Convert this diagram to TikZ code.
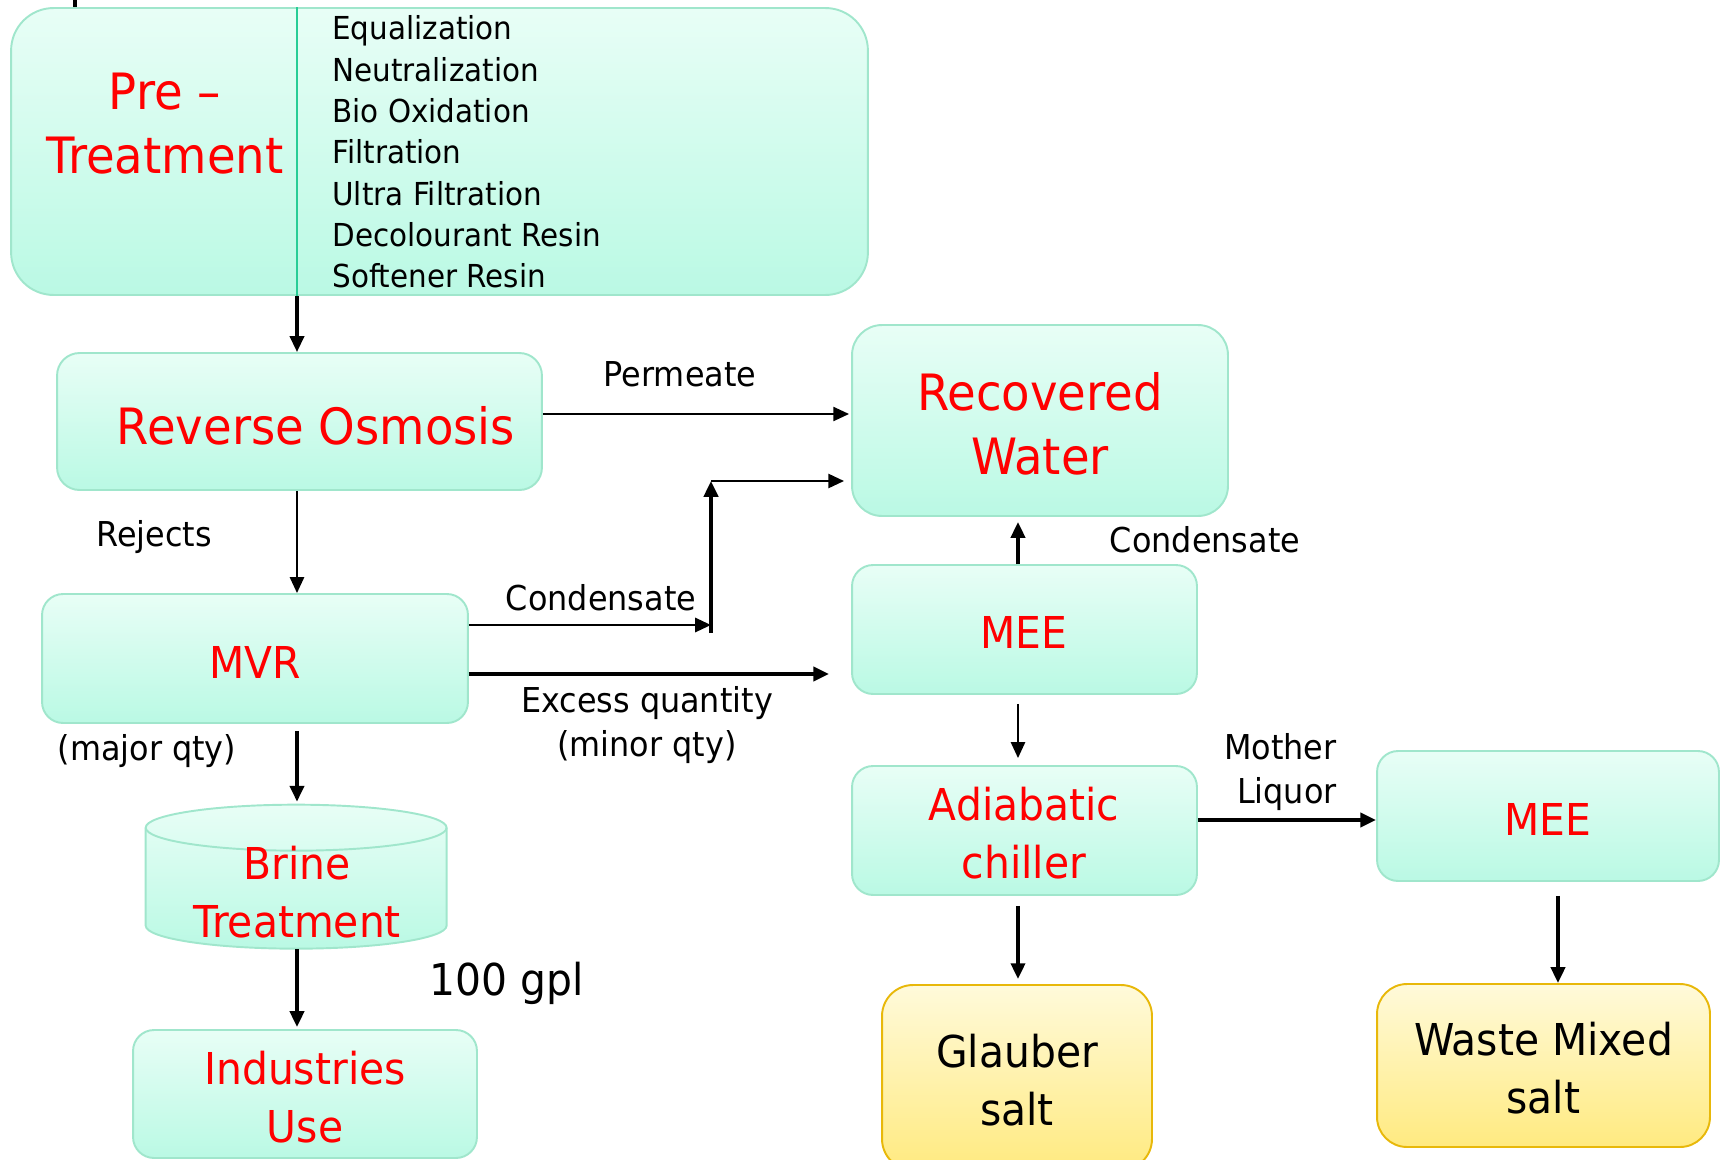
\documentclass[tikz,border=0pt]{standalone}
\usepackage{fontspec}
\setmainfont{DejaVu Sans}[FakeStretch=0.93]
\usetikzlibrary{arrows.meta,calc}
\definecolor{tealtop}{RGB}{232,254,246}
\definecolor{tealbot}{RGB}{186,249,228}
\definecolor{tealedge}{RGB}{160,230,204}
\definecolor{divgreen}{RGB}{40,205,150}
\definecolor{goldtop}{RGB}{255,250,218}
\definecolor{goldbot}{RGB}{255,234,128}
\definecolor{goldedge}{RGB}{232,184,10}
\definecolor{redtxt}{RGB}{255,0,0}
\tikzset{
  box/.style={draw=tealedge, line width=1.1pt, top color=tealtop, bottom color=tealbot, inner sep=0pt, align=center, text=redtxt},
  goldbox/.style={draw=goldedge, line width=1.1pt, top color=goldtop, bottom color=goldbot, inner sep=0pt, align=center, text=black},
  bigtxt/.style={font=\fontsize{28.5}{36.5}\selectfont},
  medtxt/.style={font=\fontsize{25}{33}\selectfont},
  lbl/.style={font=\fontsize{19.5}{25.5}\selectfont, align=center, inner sep=0pt},
  listtxt/.style={font=\fontsize{18}{23.5}\selectfont, align=left, inner sep=0pt},
  tip/.style={-{Triangle[length=9pt,width=8pt]}},
  arrthin/.style={tip, line width=1.2pt},
  arrmid/.style={tip, line width=2pt},
  arrbold/.style={tip, line width=2.5pt},
}
\begin{document}
\begin{tikzpicture}[x=0.02cm,y=-0.02cm]
\useasboundingbox (0,0) rectangle (1722,1160);
\clip (0,0) rectangle (1722,1160);

% stray stub at top left
\coordinate (stubA) at (75,-5);
\coordinate (stubB) at (75,8);
\draw[line width=2.2pt] (stubA) -- (stubB);

% boxes
\node[box, rounded corners=0.85cm, minimum width=17.14cm, minimum height=5.74cm] (pre) at (439.5,151.5) {};
\node[box, rounded corners=0.45cm, minimum width=9.7cm, minimum height=2.74cm] (ro) at (299.5,421.5) {};
\node[box, rounded corners=0.6cm, minimum width=7.52cm, minimum height=3.82cm] (rw) at (1040,420.5) {};
\node[box, rounded corners=0.42cm, minimum width=8.52cm, minimum height=2.58cm] (mvr) at (255,658.5) {};
\node[box, rounded corners=0.42cm, minimum width=6.9cm, minimum height=2.58cm] (mee1) at (1024.5,629.5) {};
\node[box, rounded corners=0.42cm, minimum width=6.9cm, minimum height=2.58cm] (adi) at (1024.5,830.5) {};
\node[box, rounded corners=0.42cm, minimum width=6.84cm, minimum height=2.6cm] (mee2) at (1548,816) {};
\node[box, rounded corners=0.42cm, minimum width=6.88cm, minimum height=2.56cm] (ind) at (305,1094) {};
\node[goldbox, rounded corners=0.62cm, minimum width=5.4cm, minimum height=3.7cm] (gla) at (1017,1077.5) {};
\node[goldbox, rounded corners=0.6cm, minimum width=6.66cm, minimum height=3.26cm] (waste) at (1543.5,1065.5) {};

% box texts
\node[bigtxt, text=redtxt, align=center] (rwtxt) at (1040,424) {Recovered\\Water};
\node[medtxt, text=redtxt] (mvrtxt) at (255,662) {MVR};
\node[medtxt, text=redtxt] (mee1txt) at (1024,632) {MEE};
\node[medtxt, text=redtxt, align=center] (aditxt) at (1024,833.5) {Adiabatic\\chiller};
\node[medtxt, text=redtxt] (mee2txt) at (1548,819) {MEE};
\node[medtxt, text=redtxt, align=center] (indtxt) at (305,1097) {Industries\\Use};
\node[medtxt, align=center] (glatxt) at (1017,1080) {Glauber\\salt};
\node[medtxt, align=center] (wastetxt) at (1543.5,1068.5) {Waste Mixed\\salt};

% brine treatment cylinder
\node[minimum width=6.02cm, minimum height=2.88cm, inner sep=0pt] (brine) at (296.5,877) {};
\path[top color=tealtop, bottom color=tealbot, draw=tealedge, line width=1.1pt]
  (brine.north west) ++(0,23) -- ++(0,98) arc (180:360:3.01cm and 0.46cm)
  -- ++(0,-98) arc (0:180:3.01cm and 0.46cm) -- cycle;
\draw[tealedge, line width=1.1pt] (brine.north west) ++(0,23) arc (180:360:3.01cm and 0.46cm);
\node[medtxt, text=redtxt, align=center] (brinetxt) at (297,892) {Brine\\Treatment};

% pre-treatment texts
\node[bigtxt, text=redtxt, align=center] (pretxt) at (165,124) {Pre –\\Treatment};
\node[listtxt, anchor=west] (list) at (332,152) {Equalization\\Neutralization\\Bio Oxidation\\Filtration\\Ultra Filtration\\Decolourant Resin\\Softener Resin};
\node[bigtxt, text=redtxt] (rotxt) at (316,426) {Reverse Osmosis};

% divider and vertical main line
\coordinate (div) at (297,7);
\draw[divgreen, line width=1.1pt] (div) -- (div |- pre.south);
\draw[arrmid, line width=1.8pt] (div |- pre.south) -- (div |- ro.north);
\draw[arrthin] (div |- ro.south) -- (div |- mvr.north);
\draw[arrmid, shorten <=0.14cm, shorten >=0.06cm] (div |- mvr.south) -- (div |- brine.north);
\draw[arrmid, shorten >=0.04cm] (div |- brine.south) -- (div |- ind.north);

% permeate
\coordinate (yperm) at (0,414);
\draw[arrthin, line width=1.3pt, shorten >=0.04cm] (ro.east |- yperm) -- (rw.west |- yperm);

% condensate from MVR
\coordinate (jlow) at (711,625);
\coordinate (jstart) at (711,633);
\coordinate (jtop) at (711,481);
\draw[tip, line width=1.5pt] (mvr.east |- jlow) -- (jlow);
\draw[tip, line width=2.2pt] (jstart) -- (jtop);
\draw[tip, line width=1.5pt, shorten >=0.14cm] (jtop) -- (rw.west |- jtop);

% excess quantity
\coordinate (yex) at (0,674);
\draw[arrbold, shorten >=0.44cm] (mvr.east |- yex) -- (mee1.west |- yex);

% MEE column
\coordinate (xm) at (1018,0);
\draw[arrmid, shorten >=0.1cm] (xm |- mee1.north) -- (xm |- rw.south);
\draw[arrthin, shorten <=0.18cm, shorten >=0.14cm] (xm |- mee1.south) -- (xm |- adi.north);
\draw[arrmid, shorten <=0.2cm, shorten >=0.1cm] (xm |- adi.south) -- (xm |- gla.north);

% mother liquor
\coordinate (yml) at (0,820);
\draw[arrbold] (adi.east |- yml) -- (mee2.west |- yml);

% MEE2 to waste
\coordinate (xw) at (1558,0);
\draw[arrmid, shorten <=0.28cm] (xw |- mee2.south) -- (xw |- waste.north);

% labels
\node[lbl] (lrej) at (154,537) {Rejects};
\node[lbl] (lperm) at (680,374) {Permeate};
\node[lbl] (lcond1) at (601,598) {Condensate};
\node[lbl] (lexcess) at (647,725) {Excess quantity\\(minor qty)};
\node[lbl] (lmajor) at (147,751) {(major qty)};
\node[lbl] (lcond2) at (1205,540) {Condensate};
\node[lbl, align=right, anchor=east] (lml) at (1337,772) {Mother\\Liquor};
\node[medtxt] (lgpl) at (507,983) {100 gpl};
\end{tikzpicture}
\end{document}
